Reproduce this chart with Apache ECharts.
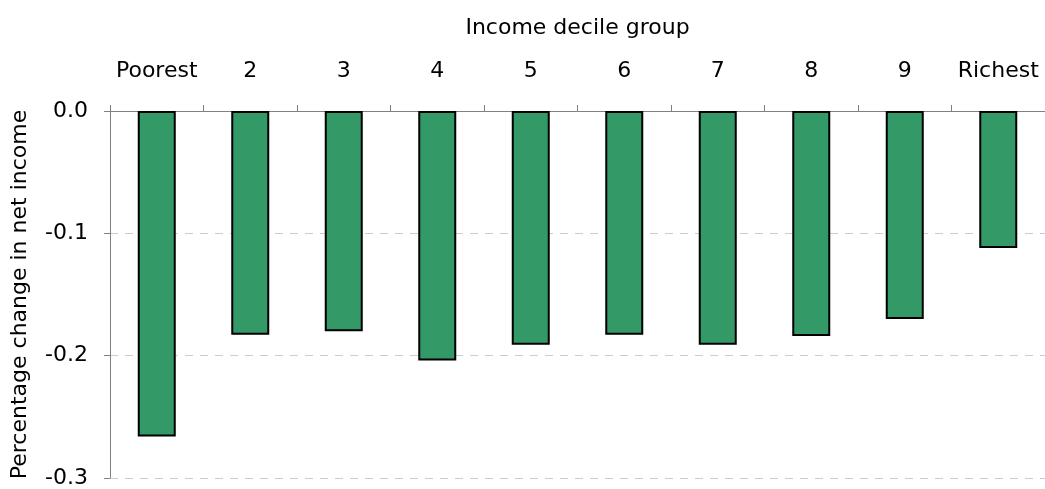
<!DOCTYPE html>
<html>
<head>
<meta charset="utf-8">
<script src="https://cdn.jsdelivr.net/npm/echarts@6/dist/echarts.min.js"></script>
<style>
html,body{margin:0;padding:0;background:#fff;}
#chart{width:1045px;height:489px;}
</style>
</head>
<body>
<div id="chart"></div>
<script>
const categories = ['Poorest', '2', '3', '4', '5', '6', '7', '8', '9', 'Richest'];
const values = [-0.266, -0.183, -0.180, -0.204, -0.191, -0.183, -0.191, -0.184, -0.170, -0.112];
const xAxisTitle = 'Income decile group';
const yAxisTitle = 'Percentage change in net income';

const chart = echarts.init(document.getElementById('chart'));
const font = 'DejaVu Sans, Liberation Sans, Arial, sans-serif';
const fs = 22;
chart.setOption({
  animation: false,
  backgroundColor: '#fff',
  grid: { left: 110, right: -5, top: 111, bottom: 4, containLabel: false },
  xAxis: {
    type: 'category',
    position: 'top',
    data: categories,
    name: xAxisTitle,
    nameLocation: 'middle',
    nameGap: 72,
    nameTextStyle: { fontFamily: font, fontSize: fs, color: '#000' },
    axisLine: { show: true, onZero: false, lineStyle: { color: '#808080', width: 1 } },
    axisTick: { show: true, alignWithLabel: false, length: 6, inside: false, lineStyle: { color: '#808080' } },
    axisLabel: { fontFamily: font, fontSize: fs, color: '#000', margin: 29, interval: 0 },
    splitLine: { show: false }
  },
  yAxis: {
    type: 'value',
    min: -0.3,
    max: 0,
    interval: 0.1,
    name: yAxisTitle,
    nameLocation: 'middle',
    nameGap: 79,
    nameRotate: 90,
    nameTextStyle: { fontFamily: font, fontSize: fs, color: '#000' },
    axisLine: { show: true, lineStyle: { color: '#808080', width: 1 } },
    axisTick: { show: true, length: 6, lineStyle: { color: '#808080' } },
    axisLabel: { fontFamily: font, fontSize: fs, color: '#000', margin: 22,
      formatter: v => v.toFixed(1) },
    splitLine: { show: true, lineStyle: { color: '#cccccc', type: [8, 7], width: 1 } }
  },
  series: [{
    type: 'bar',
    data: values,
    barWidth: 38,
    itemStyle: { color: '#339966', borderColor: '#000', borderWidth: 2 }
  }]
});
</script>
</body>
</html>
